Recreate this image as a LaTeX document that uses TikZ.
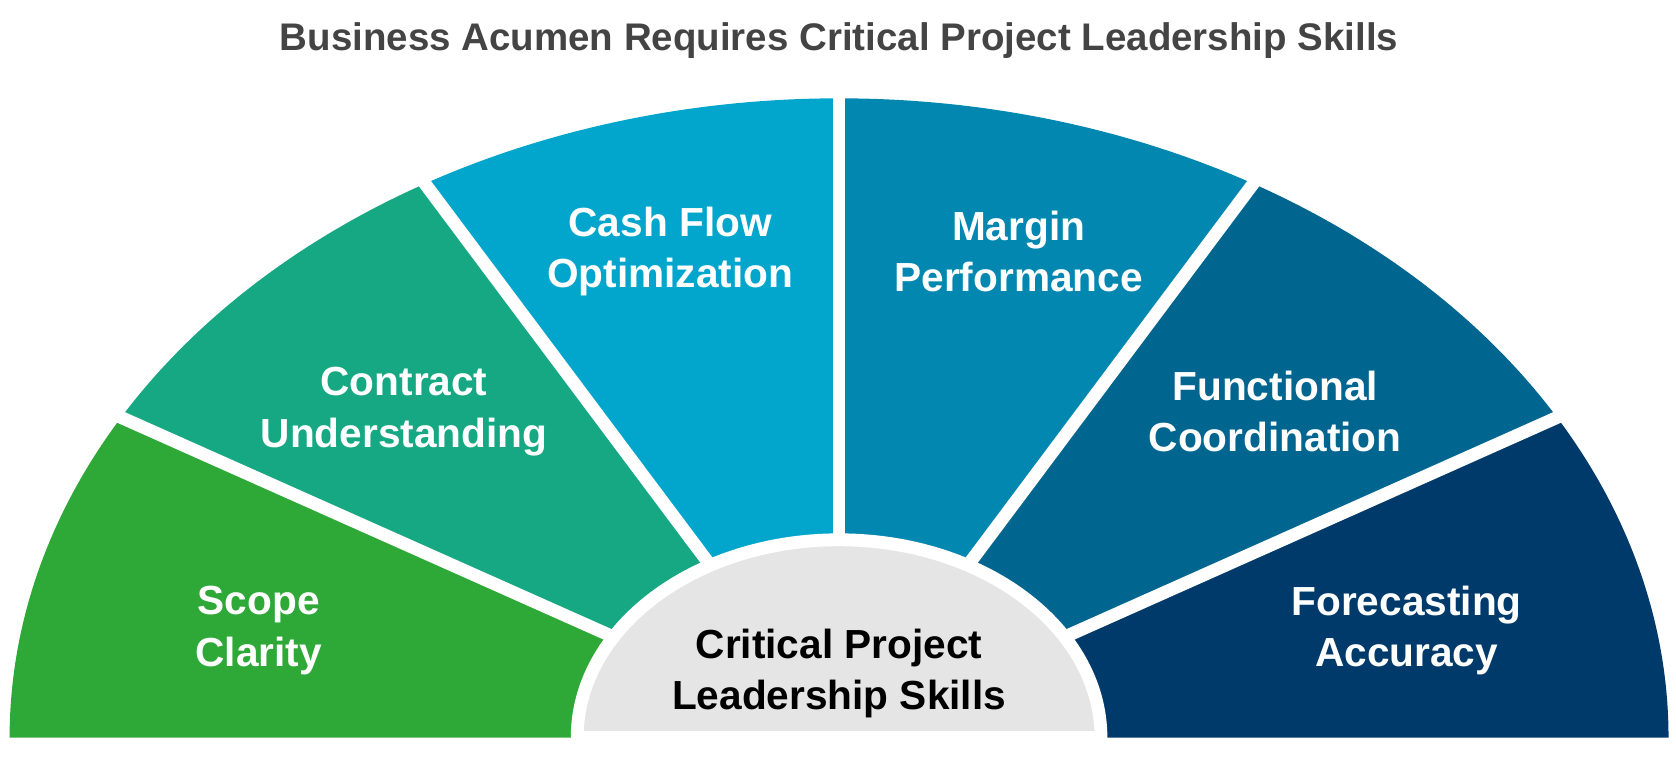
\documentclass[tikz,border=0pt]{standalone}
\usepackage{fontspec}
\setmainfont{Liberation Sans}
\definecolor{c1}{HTML}{2EA836}
\definecolor{c2}{HTML}{16A882}
\definecolor{c3}{HTML}{02A6CC}
\definecolor{c4}{HTML}{0288B0}
\definecolor{c5}{HTML}{00658F}
\definecolor{c6}{HTML}{003A6B}
\definecolor{ttl}{HTML}{444444}
\begin{document}
\begin{tikzpicture}[x=1pt,y=1pt,
  lbl/.style={text=white,font=\fontsize{38}{48}\selectfont\bfseries,align=center},
  gap/.style={white,line width=12pt}]
\useasboundingbox (0,0) rectangle (1568,710);
\coordinate (c) at (785,20);
\foreach \i/\col in {0/c6,1/c5,2/c4,3/c3,4/c2,5/c1}{
  \fill[\col] (c) -- ++(\i*30:776 and 598) arc[start angle=\i*30,end angle=\i*30+30,x radius=776,y radius=598] -- cycle;
}
\foreach \a in {30,60,90,120,150}{
  \draw[gap] (c) -- ++(\a:790 and 610);
}
\fill[white] (0,0) rectangle (1568,20);
\filldraw[fill=black!10,draw=white,line width=12pt] ([xshift=-245]c) arc[start angle=180,end angle=0,x radius=245,y radius=185] -- cycle;
\fill[white] (0,0) rectangle (1568,19);
\node[font=\fontsize{36}{40}\selectfont\bfseries,text=ttl] (title) at (785,672) {Business Acumen Requires Critical Project Leadership Skills};
\node[lbl] (s1) at (242,120) {Scope\\Clarity};
\node[lbl] (s2) at (378,325) {Contract\\Understanding};
\node[lbl] (s3) at (627,475) {Cash Flow\\Optimization};
\node[lbl] (s4) at (953,475) {Margin\\Performance};
\node[lbl] (s5) at (1193,325) {Functional\\Coordination};
\node[lbl] (s6) at (1316,120) {Forecasting\\Accuracy};
\node[lbl,text=black] (ctr) at (785,80) {Critical Project\\Leadership Skills};
\end{tikzpicture}
\end{document}
